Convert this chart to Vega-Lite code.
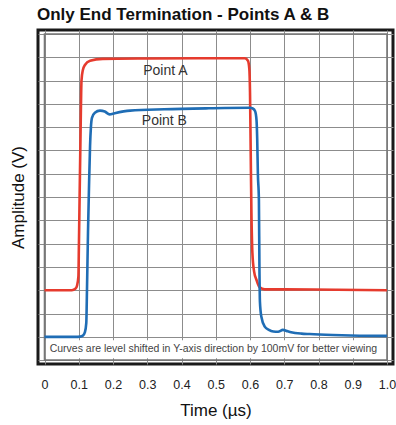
{
  "$schema": "https://vega.github.io/schema/vega-lite/v6.json",
  "autosize": {"type": "none"},
  "padding": {"left": 38, "top": 30, "right": 3, "bottom": 61},
  "width": 355,
  "height": 334,
  "background": "white",
  "title": {"text": "Only End Termination - Points A & B", "anchor": "start", "frame": "group", "fontSize": 17, "fontWeight": "bold", "font": "Liberation Sans", "color": "#111", "offset": 6, "dx": -1},
  "config": {"view": {"stroke": "#1a1a1a", "strokeWidth": 3}, "font": "Liberation Sans"},
  "datasets": {
    "curves": [
      {"s": "A", "t": 0.0, "v": 3.0}, {"s": "A", "t": 0.08, "v": 3.0}, {"s": "A", "t": 0.09, "v": 3.06}, {"s": "A", "t": 0.095, "v": 3.2}, {"s": "A", "t": 0.099, "v": 3.6}, {"s": "A", "t": 0.1005, "v": 5.0}, {"s": "A", "t": 0.1025, "v": 7.0}, {"s": "A", "t": 0.105, "v": 9.5}, {"s": "A", "t": 0.108, "v": 12.0}, {"s": "A", "t": 0.112, "v": 12.45}, {"s": "A", "t": 0.118, "v": 12.67}, {"s": "A", "t": 0.133, "v": 12.85}, {"s": "A", "t": 0.17, "v": 12.93}, {"s": "A", "t": 0.3, "v": 12.95}, {"s": "A", "t": 0.45, "v": 12.96}, {"s": "A", "t": 0.585, "v": 12.96}, {"s": "A", "t": 0.594, "v": 12.85}, {"s": "A", "t": 0.598, "v": 12.5}, {"s": "A", "t": 0.6, "v": 11.5}, {"s": "A", "t": 0.602, "v": 9.0}, {"s": "A", "t": 0.604, "v": 6.5}, {"s": "A", "t": 0.607, "v": 4.6}, {"s": "A", "t": 0.612, "v": 3.8}, {"s": "A", "t": 0.619, "v": 3.44}, {"s": "A", "t": 0.628, "v": 3.13}, {"s": "A", "t": 0.643, "v": 3.04}, {"s": "A", "t": 0.7, "v": 3.04}, {"s": "A", "t": 0.85, "v": 3.02}, {"s": "A", "t": 1.0, "v": 3.0},
      {"s": "B", "t": 0.0, "v": 1.0}, {"s": "B", "t": 0.09, "v": 1.0}, {"s": "B", "t": 0.104, "v": 1.01}, {"s": "B", "t": 0.112, "v": 1.05}, {"s": "B", "t": 0.118, "v": 1.2}, {"s": "B", "t": 0.122, "v": 1.6}, {"s": "B", "t": 0.124, "v": 3.0}, {"s": "B", "t": 0.127, "v": 5.5}, {"s": "B", "t": 0.13, "v": 7.5}, {"s": "B", "t": 0.133, "v": 9.2}, {"s": "B", "t": 0.1355, "v": 10.0}, {"s": "B", "t": 0.1385, "v": 10.4}, {"s": "B", "t": 0.147, "v": 10.62}, {"s": "B", "t": 0.162, "v": 10.71}, {"s": "B", "t": 0.176, "v": 10.67}, {"s": "B", "t": 0.19, "v": 10.55}, {"s": "B", "t": 0.205, "v": 10.6}, {"s": "B", "t": 0.25, "v": 10.71}, {"s": "B", "t": 0.35, "v": 10.77}, {"s": "B", "t": 0.48, "v": 10.81}, {"s": "B", "t": 0.6, "v": 10.83}, {"s": "B", "t": 0.608, "v": 10.8}, {"s": "B", "t": 0.615, "v": 10.68}, {"s": "B", "t": 0.619, "v": 10.3}, {"s": "B", "t": 0.621, "v": 9.5}, {"s": "B", "t": 0.623, "v": 8.0}, {"s": "B", "t": 0.626, "v": 6.87}, {"s": "B", "t": 0.6275, "v": 4.0}, {"s": "B", "t": 0.629, "v": 2.5}, {"s": "B", "t": 0.633, "v": 1.87}, {"s": "B", "t": 0.643, "v": 1.44}, {"s": "B", "t": 0.655, "v": 1.3}, {"s": "B", "t": 0.668, "v": 1.23}, {"s": "B", "t": 0.682, "v": 1.22}, {"s": "B", "t": 0.696, "v": 1.3}, {"s": "B", "t": 0.71, "v": 1.24}, {"s": "B", "t": 0.72, "v": 1.2}, {"s": "B", "t": 0.75, "v": 1.14}, {"s": "B", "t": 0.774, "v": 1.12}, {"s": "B", "t": 0.842, "v": 1.08}, {"s": "B", "t": 0.92, "v": 1.05}, {"s": "B", "t": 1.0, "v": 1.04}
    ],
    "labels": [
      {"t": 0.353, "v": 12.42, "label": "Point A"},
      {"t": 0.35, "v": 10.25, "label": "Point B"}
    ],
    "note": [
      {"t": 0.493, "v": 0.47, "label": "Curves are level shifted in Y-axis direction by 100mV for better viewing"}
    ],
    "band": [{"t": 0.004, "t2": 0.996, "v": 0.08, "v2": 0.85}],
    "frame": [{"t": 0, "t2": 1, "v": 0, "v2": 14}]
  },
  "encoding": {
    "x": {"field": "t", "type": "quantitative", "scale": {"domain": [-0.019, 1.0175], "nice": false, "zero": false},
      "axis": {"values": [0, 0.1, 0.2, 0.3, 0.4, 0.5, 0.6, 0.7, 0.8, 0.9, 1.0], "grid": true, "gridColor": "#8c8c8c", "gridWidth": 1, "domain": false, "ticks": false, "tickSize": 0, "labelPadding": 14, "labelFontSize": 12.5, "labelColor": "#222", "labelFlush": false, "labelOverlap": false, "labelExpr": "datum.value == 0 ? '0' : format(datum.value, '.1f')", "title": "Time (µs)", "titleFontSize": 17, "titleFontWeight": "normal", "titleColor": "#111", "titlePadding": 12}},
    "y": {"field": "v", "type": "quantitative", "scale": {"domain": [-0.165, 14.17], "nice": false, "zero": false},
      "axis": {"values": [0, 1, 2, 3, 4, 5, 6, 7, 8, 9, 10, 11, 12, 13, 14], "grid": true, "gridColor": "#8c8c8c", "gridWidth": 1, "domain": false, "ticks": false, "tickSize": 0, "labels": false, "title": "Amplitude (V)", "titleFontSize": 17, "titleFontWeight": "normal", "titleColor": "#111", "titlePadding": 11}}
  },
  "layer": [
    {
      "data": {"name": "band"},
      "mark": {"type": "rect", "fill": "white", "strokeWidth": 0},
      "encoding": {"x2": {"field": "t2"}, "y2": {"field": "v2"}}
    },
    {
      "data": {"name": "frame"},
      "mark": {"type": "rect", "fill": null, "stroke": "#777777", "strokeWidth": 1.6},
      "encoding": {"x2": {"field": "t2"}, "y2": {"field": "v2"}}
    },
    {
      "data": {"name": "curves"},
      "mark": {"type": "line", "strokeWidth": 2.6, "interpolate": "monotone"},
      "encoding": {
        "color": {"field": "s", "type": "nominal", "scale": {"domain": ["A", "B"], "range": ["#e63b2e", "#1f6db5"]}, "legend": null}
      }
    },
    {
      "data": {"name": "labels"},
      "mark": {"type": "text", "fontSize": 14, "color": "#333", "align": "center", "baseline": "middle"},
      "encoding": {"text": {"field": "label"}}
    },
    {
      "data": {"name": "note"},
      "mark": {"type": "text", "fontSize": 10.5, "font": "Liberation Sans", "color": "#444", "align": "center", "baseline": "middle"},
      "encoding": {"text": {"field": "label"}}
    }
  ]
}
